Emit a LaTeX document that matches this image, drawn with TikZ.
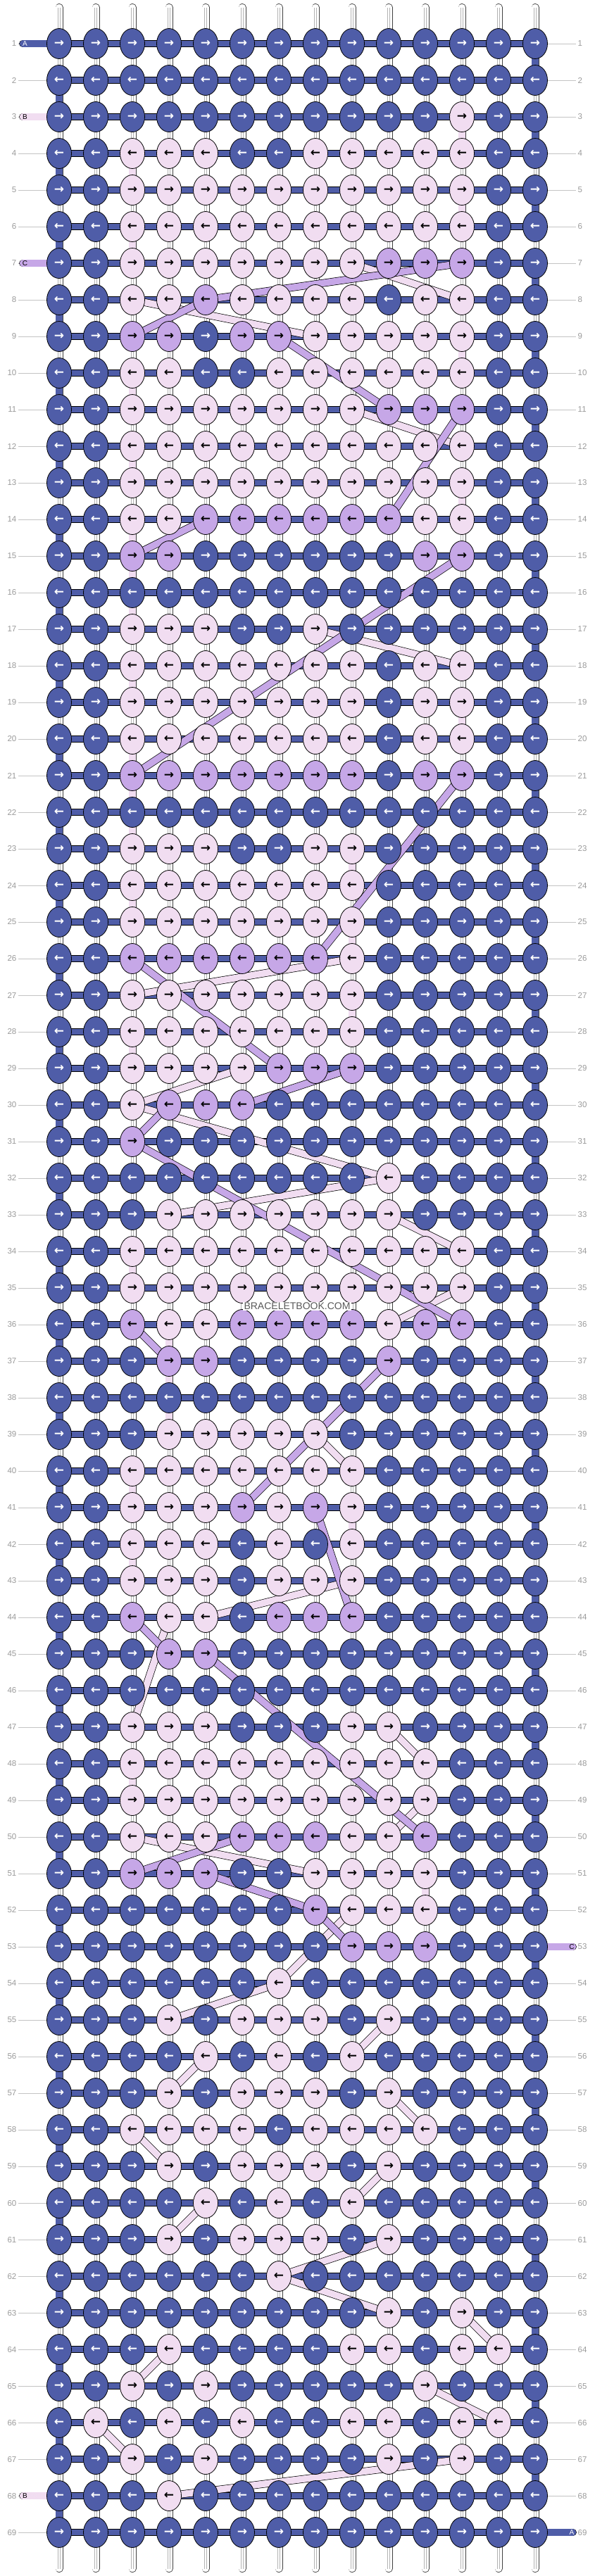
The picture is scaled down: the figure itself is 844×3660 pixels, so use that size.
\documentclass[tikz,border=0pt]{standalone}
\usepackage{fontspec}
\setmainfont{Liberation Sans}
\newfontfamily\arrowfont{DejaVu Sans}
\usetikzlibrary{shapes.geometric}
\definecolor{cA}{HTML}{4F5DA8}
\definecolor{cB}{HTML}{F1DDF1}
\definecolor{cC}{HTML}{C6A7E7}
\definecolor{numgray}{HTML}{9A9A9A}
\definecolor{tickgray}{HTML}{C4C4C4}
\pgfdeclarelayer{bg}
\pgfdeclarelayer{mid}
\pgfsetlayers{bg,mid,main}

\tikzset{
  knot/.style={ellipse, draw=black, line width=0.8pt, minimum width=35pt,
    minimum height=43pt, inner sep=0pt,
    font=\arrowfont\bfseries\fontsize{17}{17}\selectfont},
  kD/.style={knot, fill=cA, text=white},
  kP/.style={knot, fill=cB, text=black},
  kL/.style={knot, fill=cC, text=black},
  rownum/.style={text=numgray, inner sep=2.5pt, font=\fontsize{11.5}{12}\selectfont},
  tick/.style={draw=tickgray, line width=1pt},
  base/.style={draw=black!75, line width=11pt, line cap=round,
    postaction={draw=white, line width=9.4pt},
    postaction={draw=black!30, line width=3.4pt, line cap=butt},
    postaction={draw=white, line width=1.6pt, line cap=butt}},
  bar/.style={draw=black, double=cA, double distance=8.6pt, line width=0.7pt},
  strand/.style={draw=black, double=#1, double distance=9.4pt, line width=0.7pt},
  stub/.style={strand=#1, line cap=round},
  stubtxt/.style={inner sep=0pt, font=\fontsize{10}{10}\selectfont},
  wmark/.style={fill=white, text=black!65, inner xsep=2pt, inner ysep=1pt,
    font=\fontsize{14}{14}\selectfont}
}

\begin{document}
\begin{tikzpicture}[x=1pt, y=-1pt]
\useasboundingbox (0,0) rectangle (844,3660);

% Knots, one row of the pattern per entry
\foreach \r/\row in {
  1/{D,D,D,D,D,D,D,D,D,D,D,D,D,D},
  2/{D,D,D,D,D,D,D,D,D,D,D,D,D,D},
  3/{D,D,D,D,D,D,D,D,D,D,D,P,D,D},
  4/{D,D,P,P,P,D,D,P,P,P,P,P,D,D},
  5/{D,D,P,P,P,P,P,P,P,P,P,P,D,D},
  6/{D,D,P,P,P,P,P,P,P,P,P,P,D,D},
  7/{D,D,P,P,P,P,P,P,P,L,L,L,D,D},
  8/{D,D,P,P,L,P,P,P,P,D,P,P,D,D},
  9/{D,D,L,L,D,L,L,P,P,P,P,P,D,D},
  10/{D,D,P,P,D,D,P,P,P,P,P,P,D,D},
  11/{D,D,P,P,P,P,P,P,P,L,L,L,D,D},
  12/{D,D,P,P,P,P,P,P,P,P,P,P,D,D},
  13/{D,D,P,P,P,P,P,P,P,P,P,P,D,D},
  14/{D,D,P,P,L,L,L,L,L,L,P,P,D,D},
  15/{D,D,L,L,D,D,D,D,D,D,L,L,D,D},
  16/{D,D,D,D,D,D,D,D,D,D,D,D,D,D},
  17/{D,D,P,P,P,D,D,P,D,D,D,D,D,D},
  18/{D,D,P,P,P,P,P,P,P,D,P,P,D,D},
  19/{D,D,P,P,P,P,P,P,P,D,P,P,D,D},
  20/{D,D,P,P,P,P,P,P,P,D,P,P,D,D},
  21/{D,D,L,L,L,L,L,L,L,D,L,L,D,D},
  22/{D,D,D,D,D,D,D,D,D,D,D,D,D,D},
  23/{D,D,P,P,P,D,D,P,P,D,D,D,D,D},
  24/{D,D,P,P,P,P,P,P,P,D,D,D,D,D},
  25/{D,D,P,P,P,P,P,P,P,D,D,D,D,D},
  26/{D,D,L,L,L,L,L,L,P,D,D,D,D,D},
  27/{D,D,P,P,P,P,P,P,P,D,D,D,D,D},
  28/{D,D,P,P,P,P,P,P,P,D,D,D,D,D},
  29/{D,D,P,P,P,P,L,L,L,D,D,D,D,D},
  30/{D,D,P,L,L,L,D,D,D,D,D,D,D,D},
  31/{D,D,L,D,D,D,D,D,D,D,D,D,D,D},
  32/{D,D,D,D,D,D,D,D,D,P,D,D,D,D},
  33/{D,D,D,P,P,P,P,P,P,P,D,D,D,D},
  34/{D,D,P,P,P,P,P,P,P,P,P,P,D,D},
  35/{D,D,P,P,P,P,P,P,P,P,P,P,D,D},
  36/{D,D,L,P,P,L,L,L,L,P,L,L,D,D},
  37/{D,D,D,L,L,D,D,D,D,L,D,D,D,D},
  38/{D,D,D,D,D,D,D,D,D,D,D,D,D,D},
  39/{D,D,D,P,P,P,P,P,D,D,D,D,D,D},
  40/{D,D,P,P,P,P,P,P,P,D,D,D,D,D},
  41/{D,D,P,P,P,L,P,L,P,D,D,D,D,D},
  42/{D,D,P,P,P,D,P,D,P,D,D,D,D,D},
  43/{D,D,P,P,P,D,P,P,P,D,D,D,D,D},
  44/{D,D,L,P,P,D,L,L,L,D,D,D,D,D},
  45/{D,D,D,L,L,D,D,D,D,D,D,D,D,D},
  46/{D,D,D,D,D,D,D,D,D,D,D,D,D,D},
  47/{D,D,P,P,P,D,D,D,P,P,D,D,D,D},
  48/{D,D,P,P,P,P,P,P,P,P,P,D,D,D},
  49/{D,D,P,P,P,P,P,P,P,P,P,D,D,D},
  50/{D,D,P,P,P,L,L,L,P,P,L,D,D,D},
  51/{D,D,L,L,L,D,D,P,P,P,P,D,D,D},
  52/{D,D,D,D,D,D,D,L,P,P,P,D,D,D},
  53/{D,D,D,D,D,D,D,D,L,L,L,D,D,D},
  54/{D,D,D,D,D,D,P,D,D,D,D,D,D,D},
  55/{D,D,D,P,D,P,P,P,D,P,D,D,D,D},
  56/{D,D,D,D,P,D,P,D,P,D,D,D,D,D},
  57/{D,D,D,P,D,P,P,P,D,P,D,D,D,D},
  58/{D,D,P,P,P,P,D,P,P,P,P,D,D,D},
  59/{D,D,D,P,D,P,P,P,D,P,D,D,D,D},
  60/{D,D,D,D,P,D,P,D,P,D,D,D,D,D},
  61/{D,D,D,P,D,P,P,P,D,P,D,D,D,D},
  62/{D,D,D,D,D,D,P,D,D,D,D,D,D,D},
  63/{D,D,D,D,D,D,D,D,D,P,D,P,D,D},
  64/{D,D,D,P,D,D,D,D,P,P,D,P,P,D},
  65/{D,D,P,D,P,D,D,D,D,D,P,D,D,D},
  66/{D,P,D,P,D,P,D,D,P,P,D,P,P,D},
  67/{D,D,P,D,P,D,D,D,D,P,D,P,D,D},
  68/{D,D,D,P,D,D,D,D,D,D,D,D,D,D},
  69/{D,D,D,D,D,D,D,D,D,D,D,D,D,D}}{
  \ifodd\r \def\arr{→}\else \def\arr{←}\fi
  \foreach[count=\c] \k in \row
    \node[k\k] (k-\r-\c) at ({32+52*\c},{10+52*\r}) {\arr};
  % row numbers on both sides
  \node[rownum, anchor=east] (nl-\r) at (26,{10+52*\r}) {\r};
  \node[rownum, anchor=west] (nr-\r) at (818,{10+52*\r}) {\r};
}

% Loose string ends
\coordinate (e-1) at (32.5,62);
\coordinate (e-3) at (32.5,166);
\coordinate (e-7) at (32.5,374);
\coordinate (e-68) at (32.5,3546);
\coordinate (e-53) at (813.5,2766);
\coordinate (e-69) at (813.5,3598);

\begin{pgfonlayer}{bg}
% base strings
\foreach \c in {1,...,14}{
  \coordinate (top-\c) at ({32+52*\c},10.5);
  \coordinate (bot-\c) at ({32+52*\c},3649.5);
  \draw[base] (top-\c) -- (bot-\c);
}
% row ticks
\foreach \r in {1,...,69}{
  \draw[tick] (nl-\r) -- (k-\r-1);
  \draw[tick] (k-\r-14) -- (nr-\r);
}
\end{pgfonlayer}

\begin{pgfonlayer}{mid}
% working string across each row and round the edges
\foreach \r in {1,...,69}
  \draw[bar] (k-\r-1.center) -- (k-\r-14.center);
\foreach \r in {1,...,68}{
  \pgfmathtruncatemacro\nr{\r+1}
  \ifodd\r
    \draw[strand=cA] (k-\r-14.center) -- (k-\nr-14.center);
  \else
    \draw[strand=cA] (k-\r-1.center) -- (k-\nr-1.center);
  \fi
}
% carried string B
\foreach \ra/\ca/\rb/\cb in {3/12/4/12, 4/3/5/3, 5/12/6/12, 6/3/7/3, 7/9/8/12,
    8/3/9/8, 9/12/10/12, 10/3/11/3, 11/9/12/12, 12/3/13/3, 13/12/14/12,
    14/3/17/3, 17/8/18/12, 18/3/19/3, 19/12/20/12, 20/3/23/3, 23/9/24/9,
    24/3/25/3, 25/9/26/9, 26/9/27/3, 27/9/28/9, 28/3/29/3, 29/6/30/3,
    30/3/32/10, 32/10/33/4, 33/10/34/12, 34/3/35/3, 35/12/36/10, 36/4/39/4,
    39/8/40/9, 40/3/41/3, 41/9/42/9, 42/3/43/3, 43/9/44/5, 44/4/47/3,
    47/10/48/11, 48/3/49/3, 49/11/50/10, 50/3/51/8, 51/11/52/11, 52/9/54/7,
    54/7/55/4, 55/10/56/9, 56/5/57/4, 57/10/58/11, 58/3/59/4, 59/10/60/9,
    60/5/61/4, 61/10/62/7, 62/7/63/10, 63/12/64/13, 64/4/65/3, 65/11/66/13,
    66/2/67/3, 67/12/68/4}
  \draw[strand=cB] (k-\ra-\ca.center) -- (k-\rb-\cb.center);
% carried string C
\foreach \ra/\ca/\rb/\cb in {7/12/8/5, 8/5/9/3, 9/7/11/10, 11/12/14/10,
    14/5/15/3, 15/12/21/3, 21/12/26/8, 26/3/29/7, 29/9/30/6, 30/4/31/3,
    31/3/36/12, 36/3/37/4, 37/10/41/6, 41/8/44/9, 44/3/45/4, 45/5/50/11,
    50/6/51/3, 51/5/52/8, 52/8/53/9}
  \draw[strand=cC] (k-\ra-\ca.center) -- (k-\rb-\cb.center);
% loose ends
\draw[stub=cA] (e-1) -- (k-1-1.center);
\draw[stub=cB] (e-3) -- (k-3-1.center);
\draw[stub=cC] (e-7) -- (k-7-1.center);
\draw[stub=cB] (e-68) -- (k-68-1.center);
\draw[stub=cC] (k-53-14.center) -- (e-53);
\draw[stub=cA] (k-69-14.center) -- (e-69);
\end{pgfonlayer}

\node[stubtxt, text=white] (t-1) at (35.5,62) {A};
\node[stubtxt] (t-3) at (35.5,166) {B};
\node[stubtxt] (t-7) at (35.5,374) {C};
\node[stubtxt] (t-68) at (35.5,3546) {B};
\node[stubtxt] (t-53) at (812,2766) {C};
\node[stubtxt, text=white] (t-69) at (812,3598) {A};

\node[wmark] (wm) at (422,1856) {BRACELETBOOK.COM};
\end{tikzpicture}
\end{document}
